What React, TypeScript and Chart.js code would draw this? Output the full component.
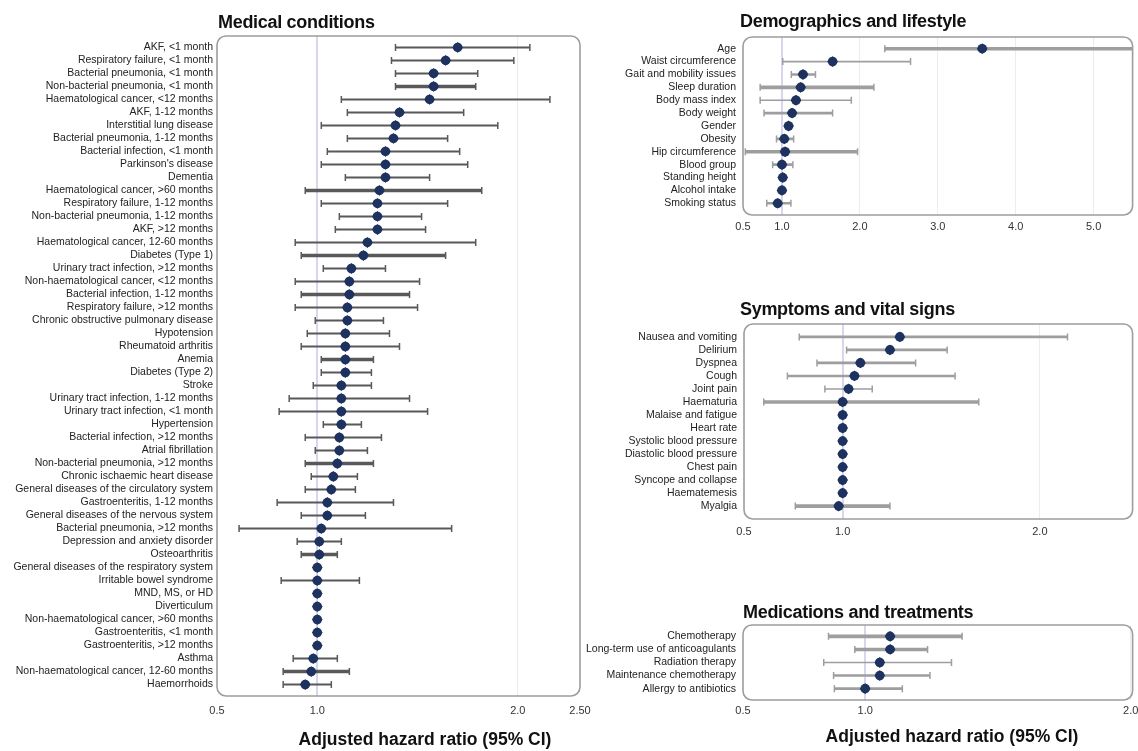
import React, { useEffect, useRef } from "react";
import { Chart, registerables } from "chart.js";

Chart.register(...registerables);

const FONT = '"Liberation Sans", Arial, Helvetica, sans-serif';
const NAVY = "#1e325f";

// ---------------- Medical conditions ----------------
const medLabels = [
  "AKF, <1 month",
  "Respiratory failure, <1 month",
  "Bacterial pneumonia, <1 month",
  "Non-bacterial pneumonia, <1 month",
  "Haematological cancer, <12 months",
  "AKF, 1-12 months",
  "Interstitial lung disease",
  "Bacterial pneumonia, 1-12 months",
  "Bacterial infection, <1 month",
  "Parkinson's disease",
  "Dementia",
  "Haematological cancer, >60 months",
  "Respiratory failure, 1-12 months",
  "Non-bacterial pneumonia, 1-12 months",
  "AKF, >12 months",
  "Haematological cancer, 12-60 months",
  "Diabetes (Type 1)",
  "Urinary tract infection, >12 months",
  "Non-haematological cancer, <12 months",
  "Bacterial infection, 1-12 months",
  "Respiratory failure, >12 months",
  "Chronic obstructive pulmonary disease",
  "Hypotension",
  "Rheumatoid arthritis",
  "Anemia",
  "Diabetes (Type 2)",
  "Stroke",
  "Urinary tract infection, 1-12 months",
  "Urinary tract infection, <1 month",
  "Hypertension",
  "Bacterial infection, >12 months",
  "Atrial fibrillation",
  "Non-bacterial pneumonia, >12 months",
  "Chronic ischaemic heart disease",
  "General diseases of the circulatory system",
  "Gastroenteritis, 1-12 months",
  "General diseases of the nervous system",
  "Bacterial pneumonia, >12 months",
  "Depression and anxiety disorder",
  "Osteoarthritis",
  "General diseases of the respiratory system",
  "Irritable bowel syndrome",
  "MND, MS, or HD",
  "Diverticulum",
  "Non-haematological cancer, >60 months",
  "Gastroenteritis, <1 month",
  "Gastroenteritis, >12 months",
  "Asthma",
  "Non-haematological cancer, 12-60 months",
  "Haemorrhoids",
];
const medHR = [
  1.70, 1.64, 1.58, 1.58, 1.56, 1.41, 1.39, 1.38, 1.34, 1.34,
  1.34, 1.31, 1.30, 1.30, 1.30, 1.25, 1.23, 1.17, 1.16, 1.16,
  1.15, 1.15, 1.14, 1.14, 1.14, 1.14, 1.12, 1.12, 1.12, 1.12,
  1.11, 1.11, 1.10, 1.08, 1.07, 1.05, 1.05, 1.02, 1.01, 1.01,
  1.00, 1.00, 1.00, 1.00, 1.00, 1.00, 1.00, 0.98, 0.97, 0.94,
];
const medLower = [
  1.39, 1.37, 1.39, 1.39, 1.12, 1.15, 1.02, 1.15, 1.05, 1.02,
  1.14, 0.94, 1.02, 1.11, 1.09, 0.89, 0.92, 1.03, 0.89, 0.92,
  0.89, 0.99, 0.95, 0.92, 1.02, 1.02, 0.98, 0.86, 0.81, 1.03,
  0.94, 0.99, 0.94, 0.97, 0.94, 0.80, 0.92, 0.61, 0.90, 0.92,
  0.99, 0.82, 0.99, 0.99, 0.99, 0.99, 0.99, 0.88, 0.83, 0.83,
];
const medUpper = [
  2.06, 1.98, 1.80, 1.79, 2.16, 1.73, 1.90, 1.65, 1.71, 1.75,
  1.56, 1.82, 1.65, 1.52, 1.54, 1.79, 1.64, 1.34, 1.51, 1.46,
  1.50, 1.33, 1.36, 1.41, 1.28, 1.27, 1.27, 1.46, 1.55, 1.22,
  1.32, 1.25, 1.28, 1.20, 1.19, 1.38, 1.24, 1.67, 1.12, 1.10,
  1.01, 1.21, 1.01, 1.01, 1.01, 1.01, 1.01, 1.10, 1.16, 1.07,
];
const medThickCI = [
  "Non-bacterial pneumonia, <1 month",
  "Haematological cancer, >60 months",
  "Diabetes (Type 1)",
  "Bacterial infection, 1-12 months",
  "Anemia",
  "Non-bacterial pneumonia, >12 months",
  "Osteoarthritis",
  "Non-haematological cancer, 12-60 months",
];
const medThinCI: string[] = [];
const medTickValues = [0.5, 1.0, 2.0, 2.31];
const medTickLabels = ["0.5", "1.0", "2.0", "2.50"];

// ---------------- Demographics and lifestyle ----------------
const demoLabels = [
  "Age",
  "Waist circumference",
  "Gait and mobility issues",
  "Sleep duration",
  "Body mass index",
  "Body weight",
  "Gender",
  "Obesity",
  "Hip circumference",
  "Blood group",
  "Standing height",
  "Alcohol intake",
  "Smoking status",
];
const demoHR = [3.57, 1.65, 1.27, 1.24, 1.18, 1.13, 1.085, 1.03, 1.04, 1.0, 1.01, 1.0, 0.945];
const demoLower = [2.32, 1.01, 1.12, 0.72, 0.72, 0.77, 1.05, 0.93, 0.53, 0.88, 0.99, 0.98, 0.805];
const demoUpper = [5.9, 2.65, 1.43, 2.18, 1.89, 1.65, 1.12, 1.15, 1.97, 1.14, 1.03, 1.02, 1.115];
const demoThickCI = ["Age", "Sleep duration", "Hip circumference"];
const demoThinCI = ["Waist circumference", "Body mass index"];
const demoTickValues = [0.5, 1, 2, 3, 4, 5];
const demoTickLabels = ["0.5", "1.0", "2.0", "3.0", "4.0", "5.0"];

// ---------------- Symptoms and vital signs ----------------
const sympLabels = [
  "Nausea and vomiting",
  "Delirium",
  "Dyspnea",
  "Cough",
  "Joint pain",
  "Haematuria",
  "Malaise and fatigue",
  "Heart rate",
  "Systolic blood pressure",
  "Diastolic blood pressure",
  "Chest pain",
  "Syncope and collapse",
  "Haematemesis",
  "Myalgia",
];
const sympHR = [1.29, 1.24, 1.09, 1.06, 1.03, 1.0, 1.0, 1.0, 1.0, 1.0, 1.0, 1.0, 1.0, 0.98];
const sympLower = [0.78, 1.02, 0.87, 0.72, 0.91, 0.6, 0.99, 0.99, 0.99, 0.99, 0.99, 0.99, 0.99, 0.76];
const sympUpper = [2.14, 1.53, 1.37, 1.57, 1.15, 1.69, 1.01, 1.01, 1.01, 1.01, 1.01, 1.01, 1.01, 1.24];
const sympThickCI = ["Haematuria", "Myalgia"];
const sympThinCI = ["Joint pain"];
const sympTickValues = [0.5, 1, 2];
const sympTickLabels = ["0.5", "1.0", "2.0"];

// ---------------- Medications and treatments ----------------
const medsLabels = [
  "Chemotherapy",
  "Long-term use of anticoagulants",
  "Radiation therapy",
  "Maintenance chemotherapy",
  "Allergy to antibiotics",
];
const medsHR = [1.094, 1.094, 1.055, 1.055, 1.0];
const medsLower = [0.862, 0.961, 0.844, 0.881, 0.884];
const medsUpper = [1.365, 1.235, 1.325, 1.244, 1.14];
const medsThickCI = ["Chemotherapy", "Long-term use of anticoagulants"];
const medsThinCI = ["Radiation therapy"];
const medsTickValues = [0.54, 1, 2];
const medsTickLabels = ["0.5", "1.0", "2.0"];

// ---------------- chart plumbing ----------------
interface PanelSpec {
  labels: string[];
  hr: number[];
  lower: number[];
  upper: number[];
  thick: string[];
  thin: string[];
  tickValues: number[];
  tickLabels: string[];
  xMin: number;
  xMax: number;
  left: number;
  top: number;
  width: number;
  height: number;
  yAxisWidth: number;
  padTop: number;
  padRight: number;
  padBottom: number;
  rowPad: number;
  ciColor: string;
  ciNormal: number;
  ciThick: number;
  ciThin: number;
  xTickPad: number;
  yLabelPad: number;
}

const boxPlugin = {
  id: "roundBox",
  beforeDatasetsDraw(chart: any) {
    const { ctx, chartArea: a } = chart;
    const r = 9;
    const x0 = a.left, y0 = a.top, x1 = a.right, y1 = a.bottom;
    ctx.save();
    ctx.strokeStyle = "#9d9d9d";
    ctx.lineWidth = 1.6;
    ctx.beginPath();
    ctx.moveTo(x0 + r, y0);
    ctx.lineTo(x1 - r, y0);
    ctx.arcTo(x1, y0, x1, y0 + r, r);
    ctx.lineTo(x1, y1 - r);
    ctx.arcTo(x1, y1, x1 - r, y1, r);
    ctx.lineTo(x0 + r, y1);
    ctx.arcTo(x0, y1, x0, y1 - r, r);
    ctx.lineTo(x0, y0 + r);
    ctx.arcTo(x0, y0, x0 + r, y0, r);
    ctx.closePath();
    ctx.stroke();
    ctx.restore();
  },
};

const capsPlugin = {
  id: "ciCaps",
  afterDatasetDraw(chart: any, args: any) {
    const meta = args.meta;
    if (meta.type !== "bar") return;
    const ds = chart.data.datasets[args.index];
    const { ctx, chartArea: a } = chart;
    ctx.save();
    ctx.beginPath();
    ctx.rect(a.left, a.top, a.right - a.left, a.bottom - a.top);
    ctx.clip();
    ctx.strokeStyle = ds.backgroundColor;
    ctx.lineWidth = 1.5;
    ctx.beginPath();
    meta.data.forEach((el: any) => {
      const { x, y, base } = el.getProps(["x", "y", "base"], true);
      for (const px of [x, base]) {
        ctx.moveTo(px, y - 3.5);
        ctx.lineTo(px, y + 3.5);
      }
    });
    ctx.stroke();
    ctx.restore();
  },
};

function buildConfig(p: PanelSpec): any {
  const idx = p.labels.map((_, i) => i);
  const cls = (i: number) =>
    p.thick.includes(p.labels[i]) ? "thick" : p.thin.includes(p.labels[i]) ? "thin" : "normal";
  const ciSet = (kind: string, w: number) => ({
    type: "bar",
    data: idx.filter((i) => cls(i) === kind).map((i) => ({ x: [p.lower[i], p.upper[i]], y: i })),
    backgroundColor: p.ciColor,
    borderWidth: 0,
    maxBarThickness: w,
    grouped: false,
    order: 5,
  });
  const points = p.hr.map((v, i) => ({ x: v, y: i }));
  return {
    type: "bar",
    data: {
      datasets: [
        {
          type: "scatter",
          data: points,
          pointStyle: "circle",
          pointRadius: 4.8,
          backgroundColor: NAVY,
          borderColor: NAVY,
          borderWidth: 0,
          order: 0,
        },
        {
          type: "scatter",
          data: points,
          pointStyle: "rectRot",
          pointRadius: 5.4,
          backgroundColor: NAVY,
          borderColor: NAVY,
          borderWidth: 0,
          order: 1,
        },
        ciSet("normal", p.ciNormal),
        ciSet("thick", p.ciThick),
        ciSet("thin", p.ciThin),
      ],
    },
    options: {
      indexAxis: "y",
      responsive: false,
      animation: false,
      devicePixelRatio: 1,
      events: [],
      layout: { padding: { left: 0, top: p.padTop, right: p.padRight, bottom: p.padBottom } },
      plugins: { legend: { display: false }, tooltip: { enabled: false }, title: { display: false } },
      scales: {
        x: {
          type: "linear",
          position: "bottom",
          min: p.xMin,
          max: p.xMax,
          offset: false,
          beginAtZero: false,
          afterBuildTicks: (s: any) => {
            s.ticks = p.tickValues.map((v) => ({ value: v }));
          },
          afterFit: (s: any) => {
            s.height = 20;
            s.paddingLeft = 0;
            s.paddingRight = 0;
          },
          ticks: {
            autoSkip: false,
            maxRotation: 0,
            padding: p.xTickPad,
            color: "#333",
            font: { family: FONT, size: 11 },
            callback: (_v: any, i: number) => p.tickLabels[i],
          },
          grid: {
            drawTicks: false,
            offset: false,
            color: (ctx: any) => {
              const v = ctx.tick ? ctx.tick.value : 0;
              if (v === 1) return "#d6d6ee";
              if (v === p.xMin || v === p.xMax) return "rgba(0,0,0,0)";
              return "#ebebf3";
            },
            lineWidth: (ctx: any) => (ctx.tick && ctx.tick.value === 1 ? 2 : 1),
          },
          border: { display: false },
        },
        y: {
          type: "linear",
          reverse: true,
          offset: false,
          min: -p.rowPad,
          max: p.labels.length - 1 + p.rowPad,
          afterBuildTicks: (s: any) => {
            s.ticks = idx.map((i) => ({ value: i }));
          },
          afterFit: (s: any) => {
            s.width = p.yAxisWidth;
            s.paddingTop = 0;
            s.paddingBottom = 0;
          },
          ticks: {
            autoSkip: false,
            padding: p.yLabelPad,
            color: "#222",
            font: { family: FONT, size: 10.5 },
            callback: (v: any) => p.labels[v] ?? "",
          },
          grid: { display: false, drawTicks: false, offset: false },
          border: { display: false },
        },
      },
    },
    plugins: [boxPlugin, capsPlugin],
  };
}

function ForestPanel({ spec }: { spec: PanelSpec }) {
  const ref = useRef<HTMLCanvasElement | null>(null);
  useEffect(() => {
    if (!ref.current) return;
    const chart = new Chart(ref.current, buildConfig(spec));
    return () => chart.destroy();
  }, [spec]);
  return (
    <canvas
      ref={ref}
      width={spec.width}
      height={spec.height}
      style={{ position: "absolute", left: spec.left, top: spec.top, width: spec.width, height: spec.height }}
    />
  );
}

const medSpec: PanelSpec = {
  labels: medLabels, hr: medHR, lower: medLower, upper: medUpper,
  thick: medThickCI, thin: medThinCI,
  tickValues: medTickValues, tickLabels: medTickLabels,
  xMin: 0.5, xMax: 2.31,
  left: 0, top: 0, width: 600, height: 751,
  yAxisWidth: 217, padTop: 36, padRight: 20, padBottom: 35, rowPad: 0.88,
  ciColor: "#595959", ciNormal: 2, ciThick: 3.6, ciThin: 1.5,
  xTickPad: 8, yLabelPad: 4,
};
const demoSpec: PanelSpec = {
  labels: demoLabels, hr: demoHR, lower: demoLower, upper: demoUpper,
  thick: demoThickCI, thin: demoThinCI,
  tickValues: demoTickValues, tickLabels: demoTickLabels,
  xMin: 0.5, xMax: 5.5,
  left: 570, top: 0, width: 568, height: 240,
  yAxisWidth: 173, padTop: 37, padRight: 1, padBottom: 5, rowPad: 0.91,
  ciColor: "#9e9e9e", ciNormal: 2.6, ciThick: 3.6, ciThin: 1.6,
  xTickPad: 5, yLabelPad: 7,
};
const sympSpec: PanelSpec = {
  labels: sympLabels, hr: sympHR, lower: sympLower, upper: sympUpper,
  thick: sympThickCI, thin: sympThinCI,
  tickValues: sympTickValues, tickLabels: sympTickLabels,
  xMin: 0.5, xMax: 2.47,
  left: 570, top: 300, width: 568, height: 245,
  yAxisWidth: 174, padTop: 24, padRight: 3, padBottom: 6, rowPad: 0.99,
  ciColor: "#9e9e9e", ciNormal: 2.6, ciThick: 3.6, ciThin: 1.6,
  xTickPad: 6, yLabelPad: 7,
};
const medsSpec: PanelSpec = {
  labels: medsLabels, hr: medsHR, lower: medsLower, upper: medsUpper,
  thick: medsThickCI, thin: medsThinCI,
  tickValues: medsTickValues, tickLabels: medsTickLabels,
  xMin: 0.54, xMax: 2.007,
  left: 570, top: 600, width: 568, height: 125,
  yAxisWidth: 173, padTop: 25, padRight: 4, padBottom: 5, rowPad: 0.87,
  ciColor: "#9e9e9e", ciNormal: 2.6, ciThick: 3.6, ciThin: 1.6,
  xTickPad: 4, yLabelPad: 7,
};

const titleStyle = (left: number, top: number): React.CSSProperties => ({
  position: "absolute",
  left,
  top,
  fontFamily: FONT,
  fontWeight: 700,
  fontSize: 18,
  lineHeight: "20px",
  color: "#111",
  whiteSpace: "nowrap",
  letterSpacing: "-0.3px",
});

const axisTitleStyle = (cx: number, cy: number): React.CSSProperties => ({
  position: "absolute",
  left: cx - 200,
  width: 400,
  top: cy - 10,
  textAlign: "center",
  fontFamily: FONT,
  fontWeight: 700,
  fontSize: 17.5,
  lineHeight: "20px",
  color: "#111",
  whiteSpace: "nowrap",
});

export default function App() {
  return (
    <div style={{ position: "absolute", left: 0, top: 0, width: 1138, height: 751, background: "#fff", overflow: "hidden" }}>
      <ForestPanel spec={medSpec} />
      <ForestPanel spec={demoSpec} />
      <ForestPanel spec={sympSpec} />
      <ForestPanel spec={medsSpec} />
      <div style={titleStyle(218, 12)}>Medical conditions</div>
      <div style={titleStyle(740, 11)}>Demographics and lifestyle</div>
      <div style={titleStyle(740, 299)}>Symptoms and vital signs</div>
      <div style={titleStyle(743, 602)}>Medications and treatments</div>
      <div style={axisTitleStyle(425, 739)}>Adjusted hazard ratio (95% CI)</div>
      <div style={axisTitleStyle(952, 736)}>Adjusted hazard ratio (95% CI)</div>
    </div>
  );
}
